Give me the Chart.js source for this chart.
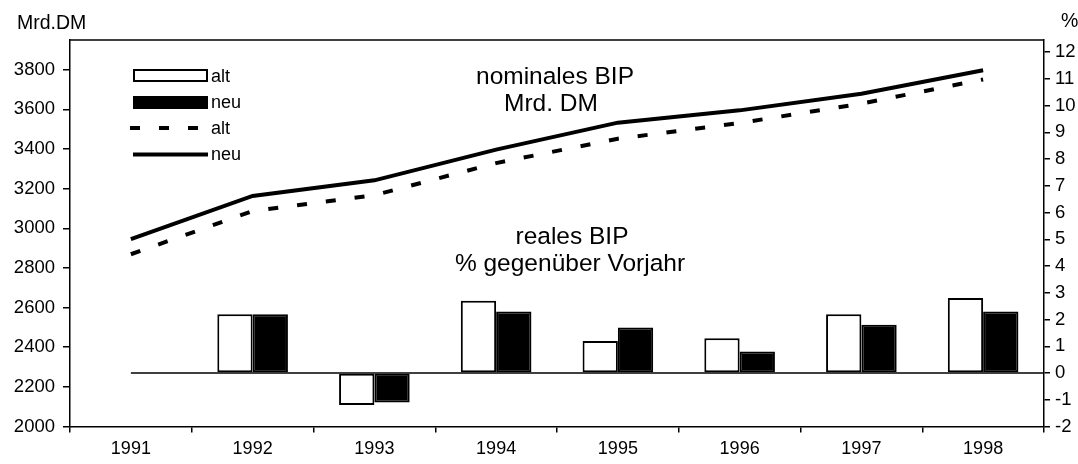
<!DOCTYPE html>
<html><head><meta charset="utf-8">
<script src="https://cdn.jsdelivr.net/npm/chart.js@4"></script>
<style>html,body{margin:0;padding:0;background:#fff}#c{display:block}</style>
</head><body>
<canvas id="c" width="1078" height="464"></canvas>
<script>
const categories = ['1991','1992','1993','1994','1995','1996','1997','1998'];
const realAlt = [null, 2.2, -1.2, 2.7, 1.2, 1.3, 2.2, 2.8];
const realNeu = [null, 2.2, -1.1, 2.3, 1.7, 0.8, 1.8, 2.3];
const nomAlt = [2869, 3087, 3167, 3329, 3452, 3531, 3629, 3751];
const nomNeu = [2945, 3163, 3242, 3397, 3533, 3595, 3679, 3797];
const leftTicks = [2000, 2200, 2400, 2600, 2800, 3000, 3200, 3400, 3600, 3800];
const rightTicks = [-2, -1, 0, 1, 2, 3, 4, 5, 6, 7, 8, 9, 10, 11, 12];
const legendLabels = ['alt', 'neu', 'alt', 'neu'];
const leftTitle = 'Mrd.DM';
const rightTitle = '%';
const noteNominal = ['nominales BIP', 'Mrd. DM'];
const noteReal = ['reales BIP', '% gegenüber Vorjahr'];

const FONT = '"Liberation Sans", Arial, sans-serif';
const DASH = [10, 19];

const extras = {
  id: 'extras',
  beforeDatasetsDraw(chart) {
    const ctx = chart.ctx, x = chart.scales.x, yR = chart.scales.yR, a = chart.chartArea;
    const y0 = yR.getPixelForValue(0);
    ctx.save();
    ctx.strokeStyle = '#000'; ctx.lineWidth = 1.5;
    ctx.beginPath(); ctx.moveTo(x.getPixelForValue(0), y0); ctx.lineTo(a.right, y0); ctx.stroke();
    ctx.restore();
  },
  afterDraw(chart) {
    const ctx = chart.ctx, a = chart.chartArea;
    ctx.save();
    ctx.strokeStyle = '#000'; ctx.lineWidth = 1.5;
    ctx.beginPath(); ctx.moveTo(a.left, a.top); ctx.lineTo(a.right, a.top); ctx.stroke();
    // legend
    const lx0 = 133, lx1 = 208;
    ctx.lineWidth = 2;
    ctx.fillStyle = '#fff'; ctx.fillRect(lx0 + 1, 70, lx1 - lx0 - 2, 11);
    ctx.strokeRect(lx0 + 1, 70, lx1 - lx0 - 2, 11);
    ctx.fillStyle = '#000'; ctx.fillRect(lx0, 96, lx1 - lx0, 13);
    ctx.lineWidth = 4; ctx.lineCap = 'butt';
    ctx.setLineDash(DASH);
    ctx.beginPath(); ctx.moveTo(130, 128); ctx.lineTo(lx1, 128); ctx.stroke();
    ctx.setLineDash([]);
    ctx.beginPath(); ctx.moveTo(lx0, 154.5); ctx.lineTo(lx1, 154.5); ctx.stroke();
    ctx.fillStyle = '#000';
    ctx.font = '18px ' + FONT;
    ctx.textBaseline = 'middle'; ctx.textAlign = 'left';
    const rows = [76, 102, 128, 154];
    legendLabels.forEach((t, i) => ctx.fillText(t, 211, rows[i] + 1));
    // titles
    ctx.font = '19.5px ' + FONT;
    ctx.fillText(leftTitle, 17, 24);
    ctx.fillText(rightTitle, 1061, 22);
    // notes
    ctx.font = '24.5px ' + FONT;
    ctx.textAlign = 'center';
    ctx.fillText(noteNominal[0], 555, 77);
    ctx.fillText(noteNominal[1], 551, 104);
    ctx.fillText(noteReal[0], 572, 237);
    ctx.fillText(noteReal[1], 570, 264);
    ctx.restore();
  }
};

new Chart(document.getElementById('c'), {
  data: {
    labels: categories,
    datasets: [
      { type: 'line', label: 'nominal alt', data: nomAlt, yAxisID: 'yL', borderColor: '#000', borderWidth: 4,
        borderDash: DASH, borderCapStyle: 'butt', pointRadius: 0, tension: 0, fill: false },
      { type: 'line', label: 'nominal neu', data: nomNeu, yAxisID: 'yL', borderColor: '#000', borderWidth: 4,
        borderCapStyle: 'butt', pointRadius: 0, tension: 0, fill: false },
      { type: 'bar', label: 'real alt', data: realAlt, yAxisID: 'yR', backgroundColor: '#fff', borderColor: '#000',
        borderWidth: 2, borderSkipped: false, categoryPercentage: 0.58, barPercentage: 1 },
      { type: 'bar', label: 'real neu', data: realNeu, yAxisID: 'yR', backgroundColor: '#000', borderColor: '#000',
        borderWidth: 2, borderSkipped: false, categoryPercentage: 0.58, barPercentage: 1 }
    ]
  },
  options: {
    responsive: false, devicePixelRatio: 1, animation: false,
    layout: { padding: { top: 40, left: 0, right: 0, bottom: 0 } },
    plugins: { legend: { display: false }, tooltip: { enabled: false } },
    scales: {
      x: {
        type: 'category', offset: true,
        grid: { offset: true, drawOnChartArea: false, tickLength: 6, color: '#000', lineWidth: 1.5 },
        border: { color: '#000', width: 1.5 },
        ticks: { color: '#000', font: { family: FONT, size: 18 }, padding: 6, maxRotation: 0 },
        afterFit(s) { s.height = 37.5; }
      },
      yL: {
        type: 'linear', position: 'left', min: 2000, max: 3950,
        afterBuildTicks(s) { s.ticks = leftTicks.map(v => ({ value: v })); },
        grid: { drawOnChartArea: false, tickLength: 7, color: '#000', lineWidth: 1.5 },
        border: { color: '#000', width: 1.5 },
        ticks: { color: '#000', font: { family: FONT, size: 18.5 }, padding: 8, callback: v => String(v) },
        afterFit(s) { s.width = 70; }
      },
      yR: {
        type: 'linear', position: 'right', min: -2, max: 12.45,
        afterBuildTicks(s) { s.ticks = rightTicks.map(v => ({ value: v })); },
        grid: { drawOnChartArea: false, tickLength: 6, color: '#000', lineWidth: 1.5 },
        border: { color: '#000', width: 1.5 },
        ticks: { color: '#000', font: { family: FONT, size: 18.5 }, padding: 5, callback: v => String(v) },
        afterFit(s) { s.width = 34; }
      }
    }
  },
  plugins: [extras]
});
</script>
</body></html>
